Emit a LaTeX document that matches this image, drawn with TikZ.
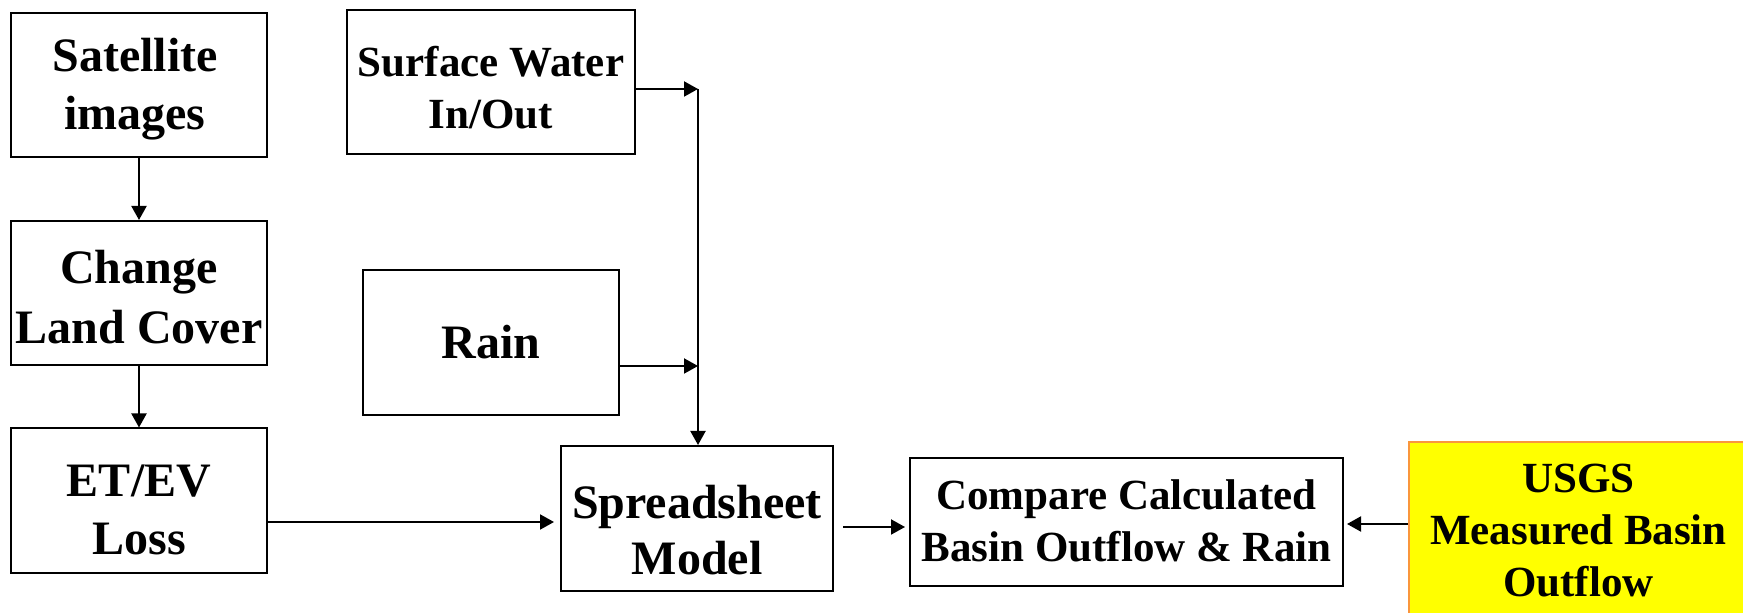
\documentclass[tikz,border=0pt]{standalone}
\usepackage{fontspec}
\setmainfont{Liberation Serif}
\usetikzlibrary{arrows.meta}
\definecolor{usgsfill}{RGB}{255,255,0}
\definecolor{usgsedge}{RGB}{250,150,60}
\tikzset{
  box/.style={draw=black, line width=1pt, inner sep=0pt},
  boxtext/.style={align=center, inner sep=0pt,
    font=\bfseries\fontsize{24}{29}\selectfont},
  smalltext/.style={boxtext, font=\bfseries\fontsize{21.5}{26}\selectfont},
  flow/.style={line width=1pt, -{Triangle[length=7pt,width=7.5pt]}},
}
\begin{document}
\begin{tikzpicture}[x=0.5pt,y=-0.5pt]
\useasboundingbox (0,0) rectangle (1743,613);

% left column
\node[box, minimum width=128pt, minimum height=72pt,
  label={[boxtext, yshift=-2pt, xshift=-2pt]center:{Satellite\\images}}] (sat) at (139,85) {};
\node[box, minimum width=128pt, minimum height=72pt,
  label={[boxtext, yshift=-2pt, font=\bfseries\fontsize{24}{30}\selectfont]center:{Change\\Land Cover}}] (chg) at (139,293) {};
\node[box, minimum width=128pt, minimum height=72pt,
  label={[boxtext, yshift=-4.5pt]center:{ET/EV\\Loss}}] (et) at (139,500.5) {};

% inputs feeding the model
\node[box, minimum width=144pt, minimum height=72pt,
  label={[smalltext, yshift=-3pt]center:{Surface Water\\In/Out}}] (sw) at (491,82) {};
\node[box, minimum width=128pt, minimum height=72.5pt,
  label={[boxtext]center:{Rain}}] (rain) at (491,342.5) {};

% model and comparison
\node[box, minimum width=136pt, minimum height=72.5pt,
  label={[boxtext, yshift=-6pt, font=\bfseries\fontsize{24}{28}\selectfont]center:{Spreadsheet\\Model}}] (ss) at (697,518.5) {};
\node[box, minimum width=216.5pt, minimum height=64pt,
  label={[smalltext, yshift=0.5pt]center:{Compare Calculated\\Basin Outflow \& Rain}}] (cmp) at (1126.5,522) {};
\node[box, draw=usgsedge, fill=usgsfill, minimum width=169.5pt, minimum height=87pt,
  label={[boxtext, yshift=-1pt, font=\bfseries\fontsize{21.5}{26}\selectfont]center:{USGS\\Measured Basin\\Outflow}}] (usgs) at (1578.5,529) {};

% junction points on the collector line
\coordinate (jt) at (698,89);
\coordinate (jr) at (698,366);

\draw[flow] (sat) -- (chg);
\draw[flow] (chg) -- (et);
\draw[flow] (sw.east |- jt) -- (jt);
\draw[flow] (rain.east |- jr) -- (jr);
\draw[flow] (jt) -- (jt |- ss.north);
\draw[flow] (et.east |- 0,522) -- ([xshift=-3pt]ss.west |- 0,522);
\draw[flow] ([xshift=4.5pt]ss.east |- 0,527) -- ([xshift=-2pt]cmp.west |- 0,527);
\draw[flow] (usgs.west |- 0,524) -- ([xshift=1.5pt]cmp.east |- 0,524);
\end{tikzpicture}
\end{document}
